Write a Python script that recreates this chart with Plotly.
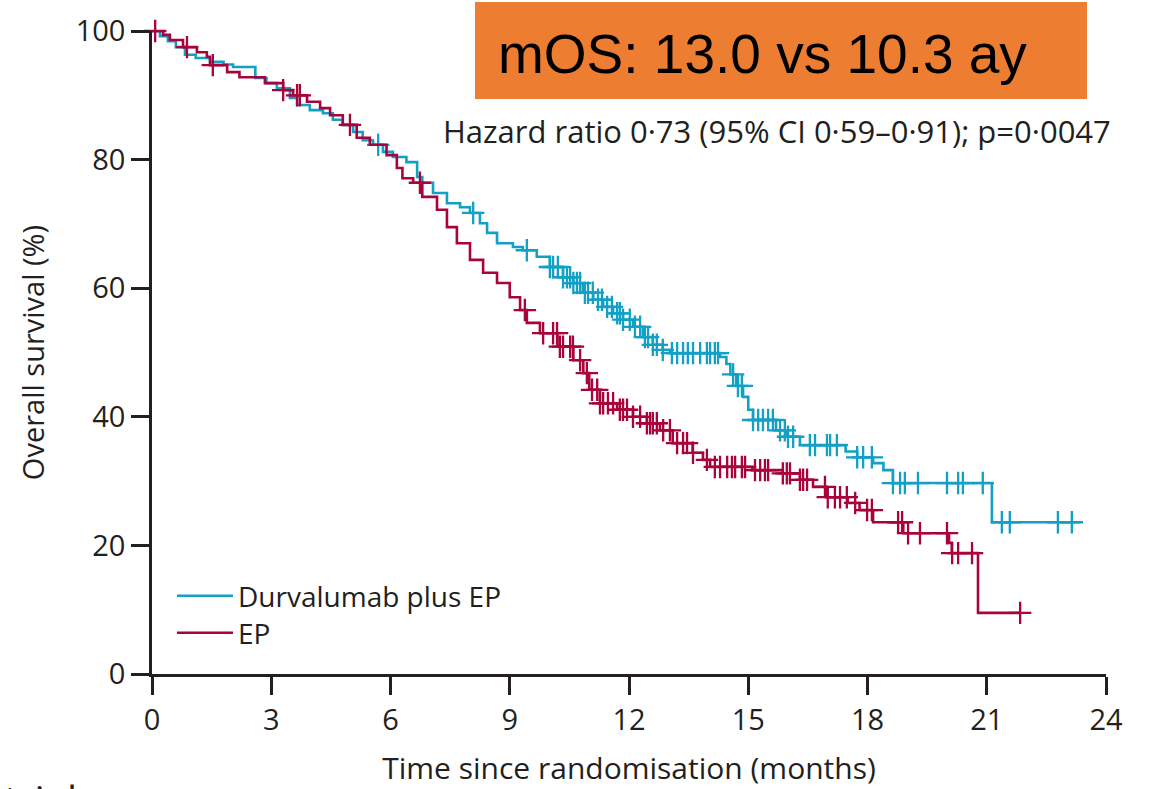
import numpy as np
import plotly.graph_objects as go

# ---- Data ----
durva_t = [0, 0.2, 0.4, 0.6, 0.83, 1.1, 1.46, 1.8, 2.04, 2.6, 2.88, 3.14, 3.47, 3.65, 3.97, 4.3, 4.55, 4.8,
           5.06, 5.3, 5.56, 5.81, 6.06, 6.4, 6.67, 6.8, 7.07, 7.42, 7.75, 8.0, 8.25, 8.43, 8.68, 9.08, 9.33,
           9.68, 10.01, 10.34, 10.6, 10.84, 11.1, 11.35, 11.6, 11.85, 12.1, 12.35, 12.6, 12.85, 13.03, 14.29,
           14.45, 14.55, 14.7, 14.87, 15.0, 15.12, 15.7, 15.97, 16.3, 17.45, 17.74, 18.14, 18.4, 18.64, 21.13, 23.35]
durva_s = [100, 99.2, 98.4, 97.5, 96.3, 95.8, 95.2, 94.8, 94.4, 92.7, 91.9, 91.1, 89.6, 88.5, 87.7, 87.2, 86.2, 85.4,
           84.3, 83.0, 82.3, 81.2, 80.4, 79.6, 77.3, 76.4, 74.8, 73.2, 72.6, 71.7, 70.1, 68.6, 67.0, 66.4, 65.9,
           64.9, 63.3, 61.7, 60.8, 59.3, 58.2, 57.1, 56.1, 55.1, 54.0, 52.4, 51.2, 50.4, 49.9, 49.3,
           48.2, 46.6, 44.8, 43.1, 41.1, 39.5, 37.9, 36.9, 35.6, 34.6, 33.7, 32.8, 31.7, 29.7, 23.6, 23.6]
durva_censor = [5.69, 8.08, 9.43, 10.01, 10.09, 10.21, 10.34, 10.44, 10.52, 10.6, 10.69, 10.77, 10.89, 10.97,
                11.09, 11.22, 11.32, 11.45, 11.57, 11.7, 11.77, 11.85, 12.02, 12.15, 12.28, 12.4, 12.48, 12.6,
                12.7, 12.85, 13.08, 13.21, 13.36, 13.48, 13.61, 13.79, 13.96, 14.04, 14.16, 14.24, 14.62, 14.74,
                14.84, 15.12, 15.25, 15.37, 15.5, 15.62, 15.8, 15.92, 16.0, 16.13, 16.55, 16.68, 16.98, 17.06,
                17.23, 17.74, 17.89, 18.11, 18.64, 18.82, 18.94, 19.27, 20.0, 20.28, 20.4, 20.9, 21.38, 21.58,
                22.79, 23.14]

ep_t = [0, 0.28, 0.45, 0.78, 1.13, 1.38, 1.46, 1.89, 2.2, 2.84, 3.3, 3.55, 3.9, 4.23, 4.48, 4.8, 5.15, 5.48,
        5.9, 6.16, 6.3, 6.57, 6.8, 7.17, 7.42, 7.67, 8.0, 8.33, 8.68, 9.0, 9.26, 9.43, 9.76, 10.2, 10.6, 10.85,
        11.0, 11.27, 11.7, 12.1, 12.45, 12.78, 13.1, 13.6, 13.86, 14.04, 15.1, 15.87, 16.3, 16.63, 16.98, 17.5,
        17.8, 18.14, 18.9, 20.05, 20.12, 20.78, 21.85]
ep_s = [100, 99.4, 98.6, 97.5, 96.7, 96.0, 94.7, 93.6, 92.8, 91.9, 90.8, 90.0, 89.0, 88.0, 86.9, 85.4, 83.4, 82.3,
        80.7, 78.7, 77.1, 76.4, 74.2, 72.2, 69.5, 67.0, 64.4, 62.4, 60.8, 58.6, 56.6, 54.6, 53.0, 50.9, 48.8, 46.8,
        44.2, 42.1, 41.1, 40.0, 39.0, 37.9, 35.9, 34.4, 33.3, 32.2, 31.7, 31.2, 30.2, 29.1, 27.5, 26.6,
        25.5, 23.6, 21.9, 20.4, 18.8, 9.5, 9.5]
ep_censor = [0.08, 0.88, 1.53, 3.3, 3.65, 3.72, 4.98, 6.74, 9.38, 9.84, 10.09, 10.19, 10.26, 10.34, 10.52, 10.59,
             10.77, 10.94, 11.07, 11.2, 11.27, 11.35, 11.47, 11.6, 11.77, 11.85, 11.95, 12.1, 12.28, 12.45, 12.53,
             12.6, 12.7, 12.86, 13.03, 13.21, 13.36, 13.46, 13.61, 13.96, 14.16, 14.29, 14.47, 14.59, 14.67, 14.84,
             14.92, 15.17, 15.3, 15.42, 15.5, 15.87, 15.97, 16.05, 16.3, 16.38, 16.48, 16.93, 17.0, 17.18, 17.31,
             17.48, 17.69, 17.99, 18.11, 18.77, 18.87, 19.02, 19.32, 20.0, 20.13, 20.28, 20.63, 21.84]

x_ticks = [0, 3, 6, 9, 12, 15, 18, 21, 24]
y_ticks = [0, 20, 40, 60, 80, 100]
series_names = ["Durvalumab plus EP", "EP"]
headline = "mOS: 13.0 vs 10.3 ay"
hr_text = "Hazard ratio 0·73 (95% CI 0·59–0·91); p=0·0047"

BLUE = "#12A0C5"
RED = "#A8033A"
INK = "#231F20"
FONT = "Open Sans"


def step_at(times, surv, pts):
    t = np.asarray(times)
    s = np.asarray(surv)
    idx = np.searchsorted(t, np.asarray(pts), side="right") - 1
    return s[np.clip(idx, 0, len(s) - 1)]


fig = go.Figure()
for name, t, s, c, col, leg in [(series_names[0], durva_t, durva_s, durva_censor, BLUE, "legend"),
                                (series_names[1], ep_t, ep_s, ep_censor, RED, "legend2")]:
    fig.add_trace(go.Scatter(x=t, y=s, mode="lines", line=dict(color=col, width=2.6, shape="hv"),
                             name=name, showlegend=True, legend=leg, cliponaxis=False, hoverinfo="skip"))
    fig.add_trace(go.Scatter(x=c, y=step_at(t, s, c), mode="markers", showlegend=False,
                             marker=dict(symbol="cross-thin", size=16, line=dict(color=col, width=2.3)),
                             cliponaxis=False, hoverinfo="skip"))

L, R, T, B = 152, 48, 31, 115
W, H = 1154, 789
pw, ph = W - L - R, H - T - B


def px_x(p):
    return (p - L) / pw


def px_y(p):
    return (H - B - p) / ph


fig.add_shape(type="rect", xref="paper", yref="paper", x0=px_x(475), x1=px_x(1087), y0=px_y(99), y1=px_y(2),
              fillcolor="#ED7D31", line=dict(width=0), layer="above")
fig.add_annotation(text=headline, xref="paper", yref="paper", x=px_x(496), y=px_y(54), xanchor="left",
                   yanchor="middle", showarrow=False, font=dict(family="Liberation Sans", size=55, color="#000000"))
fig.add_annotation(text=hr_text, xref="paper", yref="paper", x=px_x(1113), y=px_y(131), xanchor="right",
                   yanchor="middle", showarrow=False, font=dict(family=FONT, size=31, color=INK))
fig.add_annotation(text="trial", xref="paper", yref="paper", x=px_x(2), y=px_y(770), xanchor="left",
                   yanchor="top", showarrow=False, font=dict(family=FONT, size=40, color=INK))

leg_common = dict(xanchor="left", yanchor="middle", bgcolor="rgba(0,0,0,0)",
                  font=dict(size=28, color=INK), itemwidth=56, tracegroupgap=0)

fig.update_layout(
    width=W, height=H, margin=dict(l=L, r=R, t=T, b=B, pad=0, autoexpand=False),
    paper_bgcolor="white", plot_bgcolor="white",
    font=dict(family=FONT, size=29, color=INK),
    legend=dict(x=px_x(172), y=px_y(596), **leg_common),
    legend2=dict(x=px_x(172), y=px_y(633), **leg_common),
    xaxis=dict(range=[0, 24], tickvals=x_ticks, ticks="outside", ticklen=18, tickwidth=2.5, tickcolor=INK,
               showline=True, linecolor=INK, linewidth=2.5, showgrid=False, zeroline=False, automargin=False,
               title=dict(text="Time since randomisation (months)", standoff=22, font=dict(size=30)),
               tickfont=dict(size=29)),
    yaxis=dict(range=[0, 100], tickvals=y_ticks, ticks="outside", ticklen=18, tickwidth=2.5, tickcolor=INK,
               showline=True, linecolor=INK, linewidth=2.5, showgrid=False, zeroline=False, automargin=False,
               title=dict(text="Overall survival (%)", standoff=23, font=dict(size=29)),
               tickfont=dict(size=29)),
)

fig.write_html("out.html")
